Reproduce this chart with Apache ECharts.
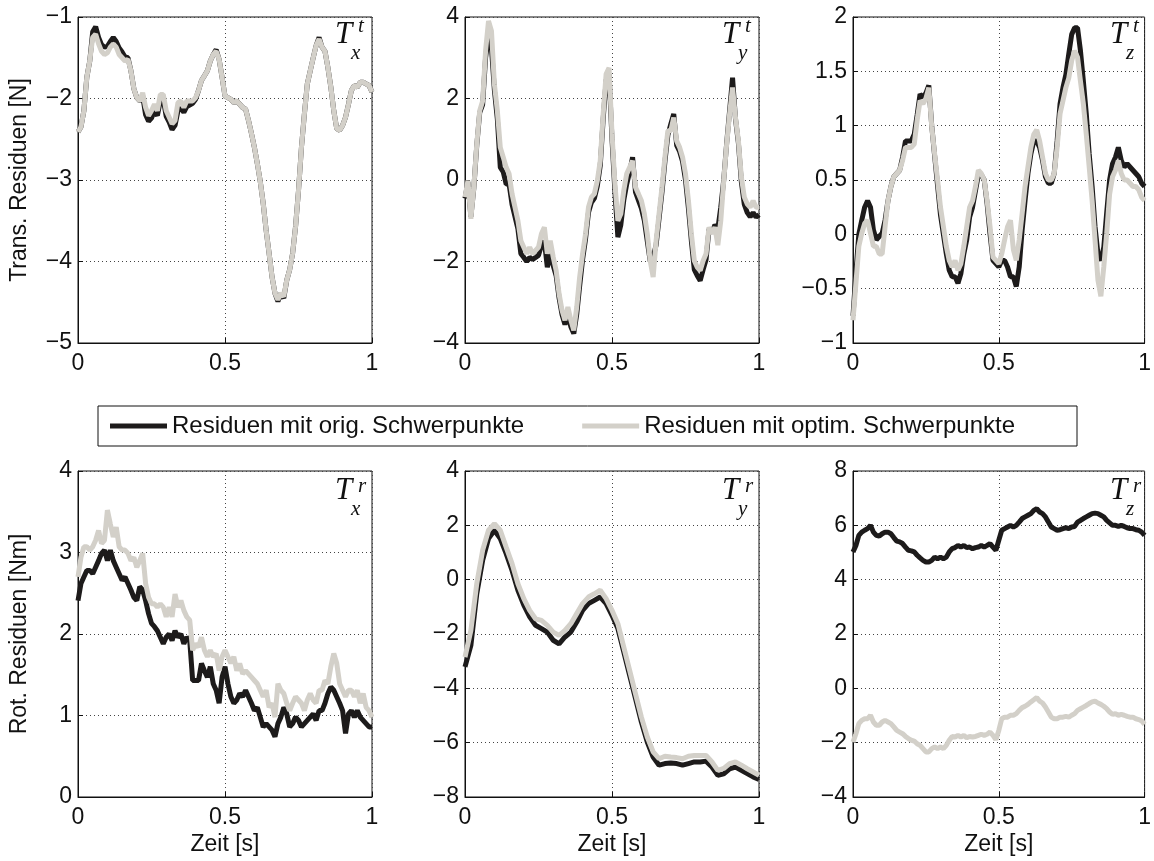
<!DOCTYPE html>
<html><head><meta charset="utf-8">
<script src="https://cdn.jsdelivr.net/npm/echarts@6/dist/echarts.min.js"></script>
<style>html,body{margin:0;padding:0;background:#fff}#c{width:1154px;height:861px}</style>
</head><body><div id="c"></div>
<script>
// ---------------- DATA ----------------
const legendNames = ['Residuen mit orig. Schwerpunkte', 'Residuen mit optim. Schwerpunkte'];
const yLabels = ['Trans. Residuen [N]', 'Rot. Residuen [Nm]'];
const xLabel = 'Zeit [s]';
const xTicks = [0, 0.5, 1];
const panelSub = ['x', 'y', 'z', 'x', 'y', 'z'];
const panelSup = ['t', 't', 't', 'r', 'r', 'r'];
const yRanges = [[-5, -1, 1], [-4, 4, 2], [-1, 2, 0.5], [0, 4, 1], [-8, 4, 2], [-4, 8, 2]];

// sample instants (s)
const t100 = Array.from({length: 101}, (_, i) => +(i / 100).toFixed(2));
const t50 = Array.from({length: 51}, (_, i) => +(i / 50).toFixed(2));

// Tx^t
const txtOrig = [-2.41,-2.35,-2.15,-1.74,-1.54,-1.18,-1.12,-1.25,-1.34,-1.37,-1.36,-1.30,-1.25,-1.30,-1.38,-1.43,-1.49,-1.50,-1.66,-1.88,
 -1.99,-2.03,-1.97,-2.20,-2.28,-2.24,-2.15,-2.21,-2.03,-2.01,-2.22,-2.29,-2.38,-2.33,-2.15,-2.12,-2.17,-2.10,-2.08,-2.06,
 -2.01,-1.90,-1.78,-1.72,-1.66,-1.54,-1.46,-1.40,-1.52,-1.74,-1.97,-1.99,-2.01,-2.05,-2.03,-2.07,-2.11,-2.13,-2.27,-2.43,
 -2.60,-2.80,-3.02,-3.29,-3.62,-3.90,-4.19,-4.39,-4.49,-4.39,-4.45,-4.23,-4.10,-3.90,-3.57,-3.13,-2.60,-2.19,-1.82,-1.66,
 -1.50,-1.35,-1.25,-1.37,-1.42,-1.62,-1.86,-2.15,-2.37,-2.39,-2.33,-2.23,-2.07,-1.90,-1.84,-1.86,-1.80,-1.80,-1.82,-1.84,-1.92];
const txtOptim = [-2.41,-2.35,-2.15,-1.74,-1.54,-1.25,-1.21,-1.33,-1.42,-1.46,-1.44,-1.37,-1.33,-1.37,-1.46,-1.50,-1.54,-1.52,-1.66,-1.88,
 -1.99,-2.03,-1.93,-2.11,-2.21,-2.15,-2.07,-2.15,-1.95,-1.95,-2.15,-2.23,-2.31,-2.27,-2.05,-2.03,-2.11,-2.03,-2.03,-2.03,
 -1.99,-1.90,-1.78,-1.72,-1.66,-1.54,-1.46,-1.42,-1.52,-1.74,-1.97,-1.99,-2.01,-2.05,-2.03,-2.07,-2.11,-2.13,-2.27,-2.43,
 -2.60,-2.80,-3.02,-3.29,-3.62,-3.90,-4.19,-4.39,-4.47,-4.39,-4.43,-4.23,-4.10,-3.90,-3.57,-3.13,-2.60,-2.19,-1.82,-1.66,
 -1.50,-1.35,-1.27,-1.37,-1.42,-1.62,-1.86,-2.15,-2.37,-2.39,-2.33,-2.23,-2.07,-1.90,-1.84,-1.86,-1.80,-1.80,-1.82,-1.84,-1.92];

// Ty^t
const tytOrig = [-0.45,-0.05,-0.90,-0.20,0.85,1.65,1.85,3.00,3.55,3.25,2.20,1.50,0.31,0.20,-0.10,-0.10,-0.60,-0.90,-1.20,-1.81,
 -1.90,-2.00,-1.90,-1.95,-1.90,-1.85,-1.60,-1.50,-2.14,-1.80,-2.10,-2.35,-2.90,-3.30,-3.55,-3.30,-3.60,-3.77,-3.30,-2.60,
 -1.95,-1.45,-0.80,-0.55,-0.45,-0.15,0.35,1.50,2.45,2.60,1.00,-0.30,-1.40,-1.10,-0.50,-0.10,0.20,0.56,-0.30,-0.50,
 -0.70,-1.00,-1.50,-2.00,-1.89,-1.60,-0.95,-0.30,0.45,1.10,1.37,1.62,0.85,0.70,0.45,0.00,-0.70,-1.50,-2.20,-2.35,
 -2.47,-2.20,-1.95,-1.20,-1.30,-1.10,-1.20,-0.67,0.00,0.90,1.70,2.51,1.50,0.90,-0.05,-0.60,-0.80,-0.90,-0.80,-0.91,-0.85];
const tytOptim = [-0.42,-0.02,-0.95,-0.18,0.88,1.70,1.94,3.17,3.90,3.66,2.35,1.70,0.80,0.56,0.31,0.15,-0.34,-0.67,-1.00,-1.49,
 -1.65,-1.81,-1.65,-1.81,-1.73,-1.65,-1.32,-1.16,-1.81,-1.49,-1.89,-2.22,-2.79,-3.20,-3.44,-3.12,-3.44,-3.69,-3.12,-2.38,
 -1.81,-1.32,-0.67,-0.42,-0.34,-0.02,0.47,1.62,2.60,2.75,1.13,-0.10,-1.00,-0.83,-0.26,0.15,0.31,0.47,-0.18,-0.34,
 -0.51,-0.83,-1.32,-1.98,-2.38,-1.49,-0.83,-0.18,0.56,1.21,1.21,1.53,0.96,0.80,0.56,0.15,-0.51,-1.32,-1.98,-2.14,
 -2.22,-1.98,-1.81,-1.16,-1.32,-1.16,-1.60,-1.00,-0.02,0.88,1.62,2.27,1.53,0.96,0.07,-0.42,-0.59,-0.67,-0.51,-0.67,-0.67];

// Tz^t
const tztOrig = [-0.75,-0.35,0.00,0.13,0.25,0.31,0.25,0.04,-0.05,-0.02,0.01,0.13,0.31,0.44,0.53,0.56,0.59,0.71,0.86,0.86,
 0.86,0.92,1.10,1.29,1.26,1.30,1.37,1.00,0.72,0.45,0.18,0.00,-0.18,-0.33,-0.39,-0.39,-0.45,-0.36,-0.18,-0.05,
 0.16,0.25,0.40,0.55,0.55,0.50,0.28,0.00,-0.24,-0.27,-0.30,-0.24,-0.24,-0.30,-0.39,-0.39,-0.48,-0.30,0.04,0.31,
 0.56,0.74,0.86,0.86,0.80,0.68,0.53,0.47,0.47,0.56,0.86,1.20,1.35,1.47,1.66,1.84,1.90,1.90,1.69,1.41,
 1.11,0.74,0.44,0.07,-0.18,-0.24,-0.12,0.20,0.50,0.65,0.71,0.80,0.68,0.62,0.65,0.62,0.59,0.56,0.53,0.47,0.44];
const tztOptim = [-0.79,-0.45,-0.11,0.01,0.10,0.13,0.01,-0.11,-0.11,-0.18,-0.18,0.07,0.31,0.44,0.53,0.56,0.59,0.68,0.80,0.80,
 0.80,0.83,1.05,1.23,1.20,1.25,1.35,0.99,0.74,0.50,0.25,0.07,-0.11,-0.24,-0.30,-0.24,-0.33,-0.27,-0.11,0.07,
 0.25,0.31,0.44,0.59,0.56,0.50,0.31,0.07,-0.21,-0.24,-0.27,-0.18,-0.05,0.07,0.13,-0.14,-0.24,-0.05,0.19,0.44,
 0.62,0.80,0.92,0.96,0.86,0.71,0.56,0.50,0.50,0.56,0.80,1.11,1.23,1.35,1.44,1.60,1.69,1.63,1.41,1.20,
 0.92,0.62,0.31,-0.05,-0.42,-0.57,-0.30,0.01,0.37,0.53,0.59,0.68,0.56,0.50,0.50,0.47,0.44,0.44,0.41,0.34,0.31];

// Tx^r
const txrOrig = [2.41,2.62,2.70,2.78,2.78,2.74,2.82,2.90,2.99,3.03,2.90,3.03,2.90,2.82,2.74,2.66,2.70,2.62,2.54,2.45,
 2.41,2.58,2.54,2.41,2.25,2.13,2.09,2.04,1.96,1.88,1.96,2.00,1.92,2.04,1.96,2.00,1.88,1.96,1.92,1.43,
 1.43,1.43,1.64,1.55,1.47,1.60,1.39,1.31,1.15,1.47,1.60,1.39,1.23,1.15,1.19,1.27,1.23,1.31,1.23,1.15,
 1.06,1.10,0.98,0.86,0.90,0.86,0.82,0.74,0.90,0.98,1.10,1.02,0.86,0.90,0.98,0.94,0.86,0.90,0.94,0.98,
 1.02,0.94,1.06,1.06,1.15,1.27,1.35,1.31,1.23,1.15,1.06,0.78,1.02,1.06,0.98,1.06,0.98,0.94,0.90,0.86,0.86];
const txrOptim = [2.70,2.94,3.07,3.07,3.03,3.07,3.15,3.27,3.11,3.15,3.52,3.35,3.19,3.31,3.07,3.03,3.03,2.99,2.90,2.94,
 2.82,2.90,2.99,2.62,2.45,2.37,2.37,2.33,2.37,2.33,2.21,2.33,2.21,2.49,2.33,2.41,2.29,2.21,2.17,1.80,
 1.88,1.84,1.96,1.80,1.72,1.80,1.72,1.76,1.55,1.72,1.80,1.72,1.64,1.72,1.55,1.64,1.51,1.55,1.51,1.47,
 1.43,1.39,1.31,1.23,1.31,1.10,1.15,0.98,1.39,1.31,1.27,1.15,1.06,1.15,1.23,1.19,1.15,1.06,1.19,1.27,
 1.19,1.15,1.31,1.31,1.43,1.39,1.60,1.76,1.64,1.39,1.31,1.23,1.31,1.31,1.23,1.31,1.15,1.27,1.10,1.06,0.98];

// Ty^r (sampled every 0.02 s)
const tyrOrig = [-3.21,-2.42,-0.52,0.71,1.51,1.82,1.51,0.96,0.34,-0.39,-0.94,-1.37,-1.68,-1.80,-1.93,-2.23,-2.36,-2.11,-1.93,-1.56,
 -1.13,-0.88,-0.76,-0.64,-0.88,-1.31,-1.80,-2.66,-3.52,-4.38,-5.24,-5.98,-6.53,-6.83,-6.77,-6.75,-6.77,-6.83,-6.77,-6.71,
 -6.71,-6.68,-6.90,-7.20,-7.15,-6.96,-6.90,-7.02,-7.14,-7.26,-7.35];
const tyrOptim = [-2.85,-1.87,-0.15,1.08,1.82,2.06,1.82,1.20,0.59,-0.15,-0.70,-1.13,-1.44,-1.50,-1.68,-1.93,-2.05,-1.87,-1.62,-1.25,
 -0.88,-0.64,-0.52,-0.39,-0.70,-1.13,-1.62,-2.48,-3.34,-4.20,-5.06,-5.79,-6.34,-6.59,-6.50,-6.53,-6.55,-6.59,-6.50,-6.47,
 -6.47,-6.47,-6.71,-7.02,-6.95,-6.77,-6.71,-6.83,-6.96,-7.08,-7.20];

// Tz^r
const tzrOrig = [5.02,5.26,5.63,5.75,5.82,5.88,6.00,5.75,5.63,5.60,5.69,5.75,5.75,5.69,5.55,5.42,5.39,5.33,5.20,5.08,
 5.06,5.02,4.90,4.80,4.71,4.65,4.65,4.71,4.83,4.77,4.83,4.77,4.83,5.02,5.14,5.18,5.26,5.20,5.26,5.18,
 5.20,5.14,5.18,5.20,5.26,5.20,5.26,5.33,5.20,5.08,5.45,5.82,5.88,5.94,6.00,5.94,6.00,6.12,6.25,6.31,
 6.37,6.43,6.55,6.61,6.49,6.43,6.31,6.12,5.94,5.88,5.82,5.84,5.88,5.91,5.88,5.94,5.96,6.12,6.18,6.25,
 6.31,6.37,6.43,6.45,6.43,6.37,6.31,6.18,6.09,6.00,6.00,5.96,6.00,5.96,5.91,5.88,5.88,5.84,5.82,5.75,5.63];
const tzrOptim = [-1.98,-1.67,-1.30,-1.18,-1.12,-1.12,-0.99,-1.24,-1.36,-1.36,-1.24,-1.18,-1.24,-1.30,-1.42,-1.55,-1.61,-1.67,-1.77,-1.85,
 -1.91,-1.94,-2.04,-2.10,-2.22,-2.34,-2.34,-2.22,-2.16,-2.22,-2.16,-2.22,-2.10,-1.91,-1.77,-1.79,-1.73,-1.79,-1.73,-1.82,
 -1.77,-1.79,-1.77,-1.73,-1.69,-1.73,-1.69,-1.61,-1.73,-1.89,-1.55,-1.12,-1.06,-1.06,-0.99,-0.99,-0.93,-0.81,-0.71,-0.66,
 -0.59,-0.50,-0.42,-0.34,-0.47,-0.54,-0.69,-0.87,-1.06,-1.12,-1.12,-1.06,-1.06,-1.03,-1.06,-0.99,-0.93,-0.81,-0.75,-0.69,
 -0.63,-0.56,-0.50,-0.47,-0.54,-0.59,-0.66,-0.75,-0.87,-0.96,-0.93,-0.99,-0.96,-0.99,-1.03,-1.06,-1.06,-1.12,-1.15,-1.20,-1.33];

// ---------------- CHART ----------------
const panels = [
  {time: t100, orig: txtOrig, optim: txtOptim},
  {time: t100, orig: tytOrig, optim: tytOptim},
  {time: t100, orig: tztOrig, optim: tztOptim},
  {time: t100, orig: txrOrig, optim: txrOptim},
  {time: t50,  orig: tyrOrig, optim: tyrOptim},
  {time: t100, orig: tzrOrig, optim: tzrOptim}
];
const colLeft = [78, 465, 853];
const rowTop = [17, 471];
const W = 294, H = 326;
const FONT = "'Liberation Sans', Arial, Helvetica, sans-serif";
const SERIF = "'Liberation Serif', 'DejaVu Serif', serif";
const BLACK = '#1d1b1b', GRAY = '#d3d0c9';
const fmt = v => String(v).replace('-', '\u2212');

const grids = [], xAxes = [], yAxes = [], series = [], graphics = [];
panels.forEach((p, i) => {
  const r = Math.floor(i / 3), c = i % 3;
  const left = colLeft[c], top = rowTop[r];
  grids.push({left, top, width: W, height: H, show: true, borderColor: '#111', borderWidth: 1, backgroundColor: '#fff'});
  xAxes.push({
    type: 'value', gridIndex: i, min: xTicks[0], max: xTicks[2], interval: xTicks[1] - xTicks[0],
    axisLine: {show: true, onZero: false, lineStyle: {color: '#111', width: 1}},
    axisTick: {show: true, inside: true, length: 5, lineStyle: {color: '#111'}},
    axisLabel: {fontSize: 23, color: '#111', fontFamily: FONT, margin: 9, formatter: fmt, hideOverlap: false},
    splitLine: {show: true, lineStyle: {color: '#444', width: 1, type: [1, 3]}},
    name: r === 1 ? xLabel : '', nameLocation: 'middle', nameGap: 36,
    nameTextStyle: {fontSize: 23, color: '#111', fontFamily: FONT}
  });
  const yr = yRanges[i];
  yAxes.push({
    type: 'value', gridIndex: i, min: yr[0], max: yr[1], interval: yr[2],
    axisLine: {show: true, onZero: false, lineStyle: {color: '#111', width: 1}},
    axisTick: {show: true, inside: true, length: 5, lineStyle: {color: '#111'}},
    axisLabel: {fontSize: 23, color: '#111', fontFamily: FONT, margin: 6, formatter: fmt, hideOverlap: false},
    splitLine: {show: true, lineStyle: {color: '#444', width: 1, type: [1, 3]}},
    name: c === 0 ? yLabels[r] : '', nameLocation: 'middle', nameGap: 47,
    nameTextStyle: {fontSize: 23, color: '#111', fontFamily: FONT}
  });
  series.push({
    name: legendNames[0], type: 'line', xAxisIndex: i, yAxisIndex: i,
    data: p.time.map((tt, k) => [tt, p.orig[k]]),
    showSymbol: false, symbol: 'none', silent: true,
    lineStyle: {color: BLACK, width: 5}, itemStyle: {color: BLACK}, z: 2
  });
  series.push({
    name: legendNames[1], type: 'line', xAxisIndex: i, yAxisIndex: i,
    data: p.time.map((tt, k) => [tt, p.optim[k]]),
    showSymbol: false, symbol: 'none', silent: true,
    lineStyle: {color: GRAY, width: 5}, itemStyle: {color: GRAY}, z: 3
  });
  const R = left + W;
  graphics.push({type: 'text', left: R - 37, top: top + 2 + (r ? 2 : 0), z: 100,
    style: {text: 'T', font: 'italic 31px ' + SERIF, fill: '#111'}});
  graphics.push({type: 'text', left: R - 14, top: top - 1 + (r ? 6 : 0), z: 100,
    style: {text: panelSup[i], font: 'italic 21px ' + SERIF, fill: '#111'}});
  graphics.push({type: 'text', left: R - 21, top: top + 26 + (r ? 2 : 0), z: 100,
    style: {text: panelSub[i], font: 'italic 21px ' + SERIF, fill: '#111'}});
});

const chart = echarts.init(document.getElementById('c'), null, {renderer: 'canvas'});
chart.setOption({
  animation: false,
  backgroundColor: '#fff',
  grid: grids, xAxis: xAxes, yAxis: yAxes, series,
  legend: {
    data: legendNames, left: 98, top: 406,
    orient: 'horizontal', icon: 'rect', itemWidth: 57, itemHeight: 5, itemGap: 58,
    padding: [8, 62, 8, 12], borderColor: '#111', borderWidth: 1, backgroundColor: '#fff',
    textStyle: {fontSize: 24, color: '#111', fontFamily: FONT}, selectedMode: false
  },
  graphic: graphics
});
</script></body></html>
